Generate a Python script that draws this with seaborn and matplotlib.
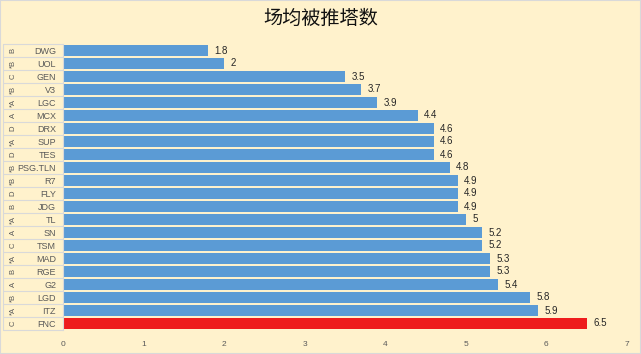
import matplotlib
matplotlib.use("Agg")
import matplotlib.pyplot as plt
import seaborn as sns
import pandas as pd

# data, top to bottom
teams = ["DWG", "UOL", "GEN", "V3", "LGC", "MCX", "DRX", "SUP", "TES", "PSG.TLN", "R7",
         "FLY", "JDG", "TL", "SN", "TSM", "MAD", "RGE", "G2", "LGD", "ITZ", "FNC"]
groups = ["B", "*B", "C", "*B", "*A", "A", "D", "*A", "D", "*B", "*B",
          "D", "B", "*A", "A", "C", "*A", "B", "A", "*B", "*A", "C"]
values = [1.8, 2, 3.5, 3.7, 3.9, 4.4, 4.6, 4.6, 4.6, 4.8, 4.9,
          4.9, 4.9, 5, 5.2, 5.2, 5.3, 5.3, 5.4, 5.8, 5.9, 6.5]
value_labels = ["1.8", "2", "3.5", "3.7", "3.9", "4.4", "4.6", "4.6", "4.6", "4.8", "4.9",
                "4.9", "4.9", "5", "5.2", "5.2", "5.3", "5.3", "5.4", "5.8", "5.9", "6.5"]
title = "场均被推塔数"

bg = "#FFF2CC"
blue = "#5B9BD5"
red = "#EE1C1C"

sns.set_style("white")
plt.rcParams['font.family'] = ['Noto Sans CJK SC', 'DejaVu Sans']

df = pd.DataFrame({"team": teams, "value": values})
colors = [red if t == "FNC" else blue for t in teams]

fig = plt.figure(figsize=(6.41, 3.54), dpi=100, facecolor=bg)
ax = fig.add_axes([63 / 641, 1 - 330 / 354, 564 / 641, 286 / 354])
ax.set_facecolor(bg)

sns.barplot(data=df, x="value", y="team", hue="team", palette=colors,
            legend=False, width=0.78, saturation=1, linewidth=0, ax=ax)

ax.set_xlim(0, 7)
ax.set_ylim(len(teams) - 0.5, -0.5)
ax.set_xticks(range(0, 8))
ax.tick_params(axis="x", length=0, labelsize=6, colors="#595959", pad=8)
ax.tick_params(axis="y", length=0, labelsize=6.5, colors="#595959", pad=5)
for lab in ax.get_yticklabels():
    lab.set_family("Liberation Sans")
for lab in ax.get_xticklabels():
    lab.set_family("Liberation Sans")
ax.set_xlabel("")
ax.set_ylabel("")
for s in ["top", "right", "bottom"]:
    ax.spines[s].set_visible(False)
ax.spines["left"].set_color("#D9D9D9")
ax.spines["left"].set_linewidth(0.8)

# value labels
for i, (v, t) in enumerate(zip(values, value_labels)):
    ax.text(v + 0.08, i, t, va="center", ha="left", fontsize=7, color="#262626",
            family="Liberation Sans")

# group labels and separators in the category area
ytr = ax.get_yaxis_transform()
for i, g in enumerate(groups):
    ax.text(-0.088, i, g, rotation=90, va="center", ha="center", fontsize=5.5,
            color="#595959", transform=ytr, family="Liberation Sans")
for b in range(len(teams) + 1):
    ax.plot([-0.107, 0], [b - 0.5, b - 0.5], transform=ytr, color="#D9D9D9",
            lw=0.8, clip_on=False)
ax.plot([-0.107, -0.107], [-0.5, len(teams) - 0.5], transform=ytr,
        color="#D9D9D9", lw=0.8, clip_on=False)

fig.text(0.5, 1 - 18 / 354, title, ha="center", va="center", fontsize=13.8,
         color="#111111")

# frame of the chart
fig.patches.append(plt.Rectangle((0, 0), 1, 1, transform=fig.transFigure,
                                 fill=False, edgecolor="#D9D9D9", lw=1.5))

fig.savefig("out.png", dpi=100, facecolor=bg)
